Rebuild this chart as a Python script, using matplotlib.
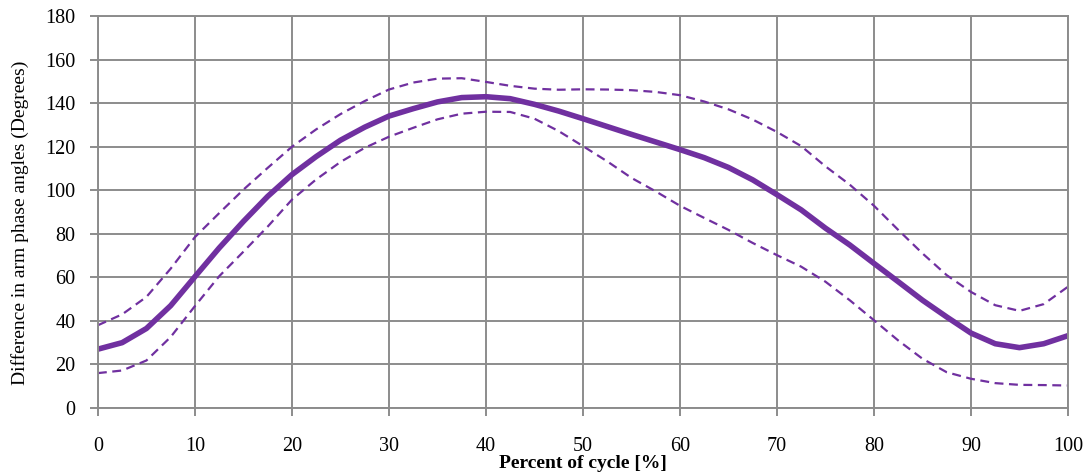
import matplotlib.pyplot as plt
import numpy as np

# values (every 2.5 % of the cycle)
pct = [0, 2.5, 5, 7.5, 10, 12.5, 15, 17.5, 20, 22.5, 25, 27.5, 30, 32.5, 35, 37.5, 40,
       42.5, 45, 47.5, 50, 52.5, 55, 57.5, 60, 62.5, 65, 67.5, 70, 72.5, 75, 77.5, 80,
       82.5, 85, 87.5, 90, 92.5, 95, 97.5, 100]
mean_diff = [27, 30, 36.5, 47, 60.3, 73.5, 85.7, 97.2, 107.2, 115.5, 123, 129, 134.1, 137.5,
             140.6, 142.6, 143, 142.1, 139.5, 136.4, 132.9, 129.3, 125.7, 122.2, 118.7, 115,
             110.5, 104.8, 98, 91, 82.6, 74.9, 66.4, 58, 49.5, 41.8, 34.4, 29.5, 27.7, 29.5, 33.2]
upper_sd = [38, 43, 51, 64, 78.5, 89.5, 100.3, 110.3, 120, 128, 135, 141, 146.3, 149.5,
            151.3, 151.5, 149.8, 148, 146.7, 146.2, 146.4, 146.3, 146, 145.2, 143.7, 140.8,
            137.2, 132.5, 126.8, 120.3, 111, 102.6, 92.9, 81.8, 71, 61, 53.3, 47.2, 44.6,
            47.7, 55.7]
lower_sd = [16, 17.2, 21.8, 32.6, 46.8, 60.5, 71.8, 83.3, 95.7, 105, 113, 119.5, 124.6, 128.7,
            132.6, 135.2, 136.1, 136, 132.9, 127.2, 120.3, 113.3, 105.7, 99.5, 92.9, 87.3,
            81.8, 75.8, 70.2, 64.9, 58, 49.5, 40.3, 31, 22.6, 16.4, 13.4, 11.4, 10.6, 10.5,
            10.3]

purple = '#7030a0'
grid_col = '#8c8c8c'

plt.rcParams['font.family'] = ['Liberation Serif', 'DejaVu Serif']

fig = plt.figure(figsize=(10.88, 4.76), dpi=100)
ax = fig.add_axes([0.090, 0.143, 0.8916, 0.823])

ax.plot(pct, upper_sd, color=purple, lw=1.6, ls=(0, (4, 2.5)))
ax.plot(pct, lower_sd, color=purple, lw=1.6, ls=(0, (4, 2.5)))
ax.plot(pct, mean_diff, color=purple, lw=4, solid_joinstyle='round')

ax.set_xlim(0, 100)
ax.set_ylim(0, 180)
ax.set_xticks(np.arange(0, 101, 10))
ax.set_yticks(np.arange(0, 181, 20))
ax.grid(True, color=grid_col, lw=1.4)
ax.set_axisbelow(True)
for s in ax.spines.values():
    s.set_color(grid_col)
    s.set_linewidth(1.4)
ax.tick_params(axis='both', color=grid_col, width=1.4, length=6, labelsize=14.5)
ax.tick_params(axis='x', pad=15)
ax.tick_params(axis='y', pad=10)

ax.set_xlabel('Percent of cycle [%]', fontsize=14, fontweight='bold', labelpad=-1)
ax.set_ylabel('Difference in arm phase angles (Degrees)', fontsize=14)
ax.yaxis.set_label_coords(-0.071, 0.472)

fig.savefig('out.png', dpi=100)
